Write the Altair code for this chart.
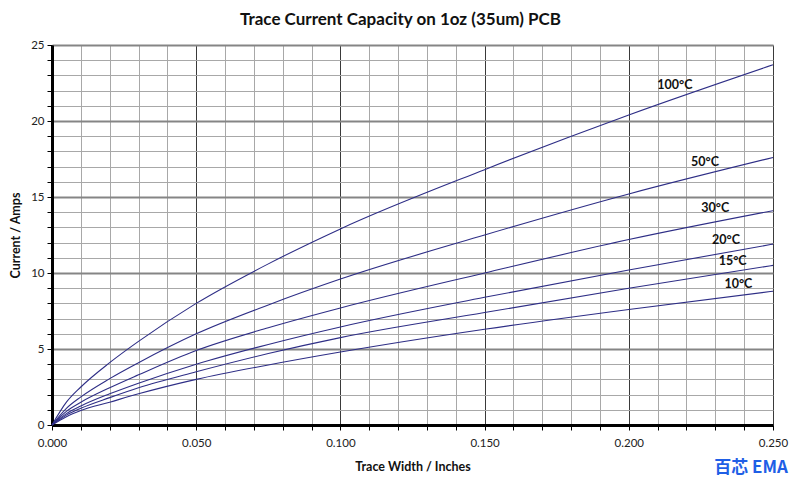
import altair as alt
import pandas as pd

# ---- data ----
widths = [0.0, 0.005, 0.01, 0.02, 0.03, 0.05, 0.075, 0.1, 0.15, 0.2, 0.25]
amps_100 = [0.0, 1.5, 2.5, 4.1, 5.5, 8.0, 10.6, 12.9, 16.8, 20.4, 23.7]
amps_50 = [0.0, 1.1, 1.85, 3.05, 4.1, 6.0, 7.9, 9.6, 12.5, 15.2, 17.6]
amps_30 = [0.0, 0.9, 1.5, 2.45, 3.3, 4.9, 6.4, 7.7, 10.0, 12.2, 14.1]
amps_20 = [0.0, 0.75, 1.25, 2.05, 2.75, 4.0, 5.3, 6.45, 8.4, 10.2, 11.9]
amps_15 = [0.0, 0.65, 1.1, 1.8, 2.45, 3.5, 4.7, 5.75, 7.4, 9.0, 10.5]
amps_10 = [0.0, 0.55, 0.95, 1.5, 2.05, 3.0, 3.95, 4.8, 6.3, 7.6, 8.8]
series_names = ["100°C", "50°C", "30°C", "20°C", "15°C", "10°C"]
series_values = [amps_100, amps_50, amps_30, amps_20, amps_15, amps_10]

# label anchor positions (data units)
label_x = [0.216, 0.2264, 0.230, 0.2337, 0.236, 0.238]
label_y = [22.4, 17.3, 14.3, 12.2, 10.8, 9.3]

x_ticks = [round(i * 0.01, 3) for i in range(26)]
y_ticks = list(range(26))

rows = []
for name, vals in zip(series_names, series_values):
    for w, a in zip(widths, vals):
        rows.append({"series": name, "width": w, "amps": a})
df = pd.DataFrame(rows)
labels_df = pd.DataFrame({"series": series_names, "lx": label_x, "ly": label_y})

FONT = "Lato"
LINE = "#2e2e86"

x_scale = alt.Scale(domain=[0, 0.25], nice=False, zero=True)
y_scale = alt.Scale(domain=[0, 25], nice=False)

x_axis = alt.Axis(
    values=x_ticks,
    tickCount=40,
    labelExpr="abs(datum.value*20 - round(datum.value*20)) < 0.001 ? format(datum.value, '.3f') : ''",
    labelOverlap=False,
    labelFlush=False,
    title="Trace Width / Inches",
    grid=True,
    gridColor={"condition": {"test": "abs(datum.value*20 - round(datum.value*20)) < 0.001", "value": "#3a3a3a"}, "value": "#a8a8a8"},
    gridWidth=1,
    domainColor="black", domainWidth=3,
    tickColor="black", tickSize=5, tickWidth=1,
    labelFont=FONT, labelFontSize=11.5, labelColor="#222", labelPadding=7,
    titleFont=FONT, titleFontSize=12.5, titleFontWeight="bold", titleColor="#111", titlePadding=12,
)
y_axis = alt.Axis(
    values=y_ticks,
    tickCount=40,
    labelExpr="datum.value % 5 == 0 ? datum.value : ''",
    labelOverlap=False,
    labelFlush=False,
    title="Current / Amps",
    grid=True,
    gridColor={"condition": {"test": "datum.value % 5 == 0", "value": "#858585"}, "value": "#a8a8a8"},
    gridWidth={"condition": {"test": "datum.value % 5 == 0", "value": 2}, "value": 1},
    domainColor="black", domainWidth=3,
    tickColor="black", tickSize=5, tickWidth=1,
    labelFont=FONT, labelFontSize=11.5, labelColor="#222", labelPadding=3,
    titleFont=FONT, titleFontSize=12.5, titleFontWeight="bold", titleColor="#111", titlePadding=8,
)

lines = alt.Chart(df).mark_line(color=LINE, strokeWidth=1.1, interpolate="monotone").encode(
    x=alt.X("width:Q", scale=x_scale, axis=x_axis),
    y=alt.Y("amps:Q", scale=y_scale, axis=y_axis),
    detail="series:N",
)

labels = alt.Chart(labels_df).mark_text(
    font=FONT, fontSize=12.5, fontWeight="bold", color="#111", align="center", baseline="middle"
).encode(
    x=alt.X("lx:Q", scale=x_scale),
    y=alt.Y("ly:Q", scale=y_scale),
    text="series:N",
)

watermark = alt.Chart(pd.DataFrame({"t": ["百芯 EMA"]})).mark_text(
    font="Noto Sans CJK SC", fontSize=17, fontWeight="bold", color="#1f5fe6", align="center", baseline="middle"
).encode(x=alt.value(699), y=alt.value(423), text="t:N")

chart = alt.layer(lines, labels, watermark).properties(
    width=721,
    height=380,
    title=alt.TitleParams(
        "Trace Current Capacity on 1oz (35um) PCB",
        font=FONT, fontSize=17, fontWeight="bold", color="#111", offset=10, dx=-12,
    ),
    autosize=alt.AutoSizeParams(type="none"),
    padding={"left": 44, "top": 37, "right": 19, "bottom": 55},
).configure_view(stroke="black", strokeWidth=3).configure(background="white")

chart.save("out.html", embed_options={"renderer": "svg", "actions": False})
